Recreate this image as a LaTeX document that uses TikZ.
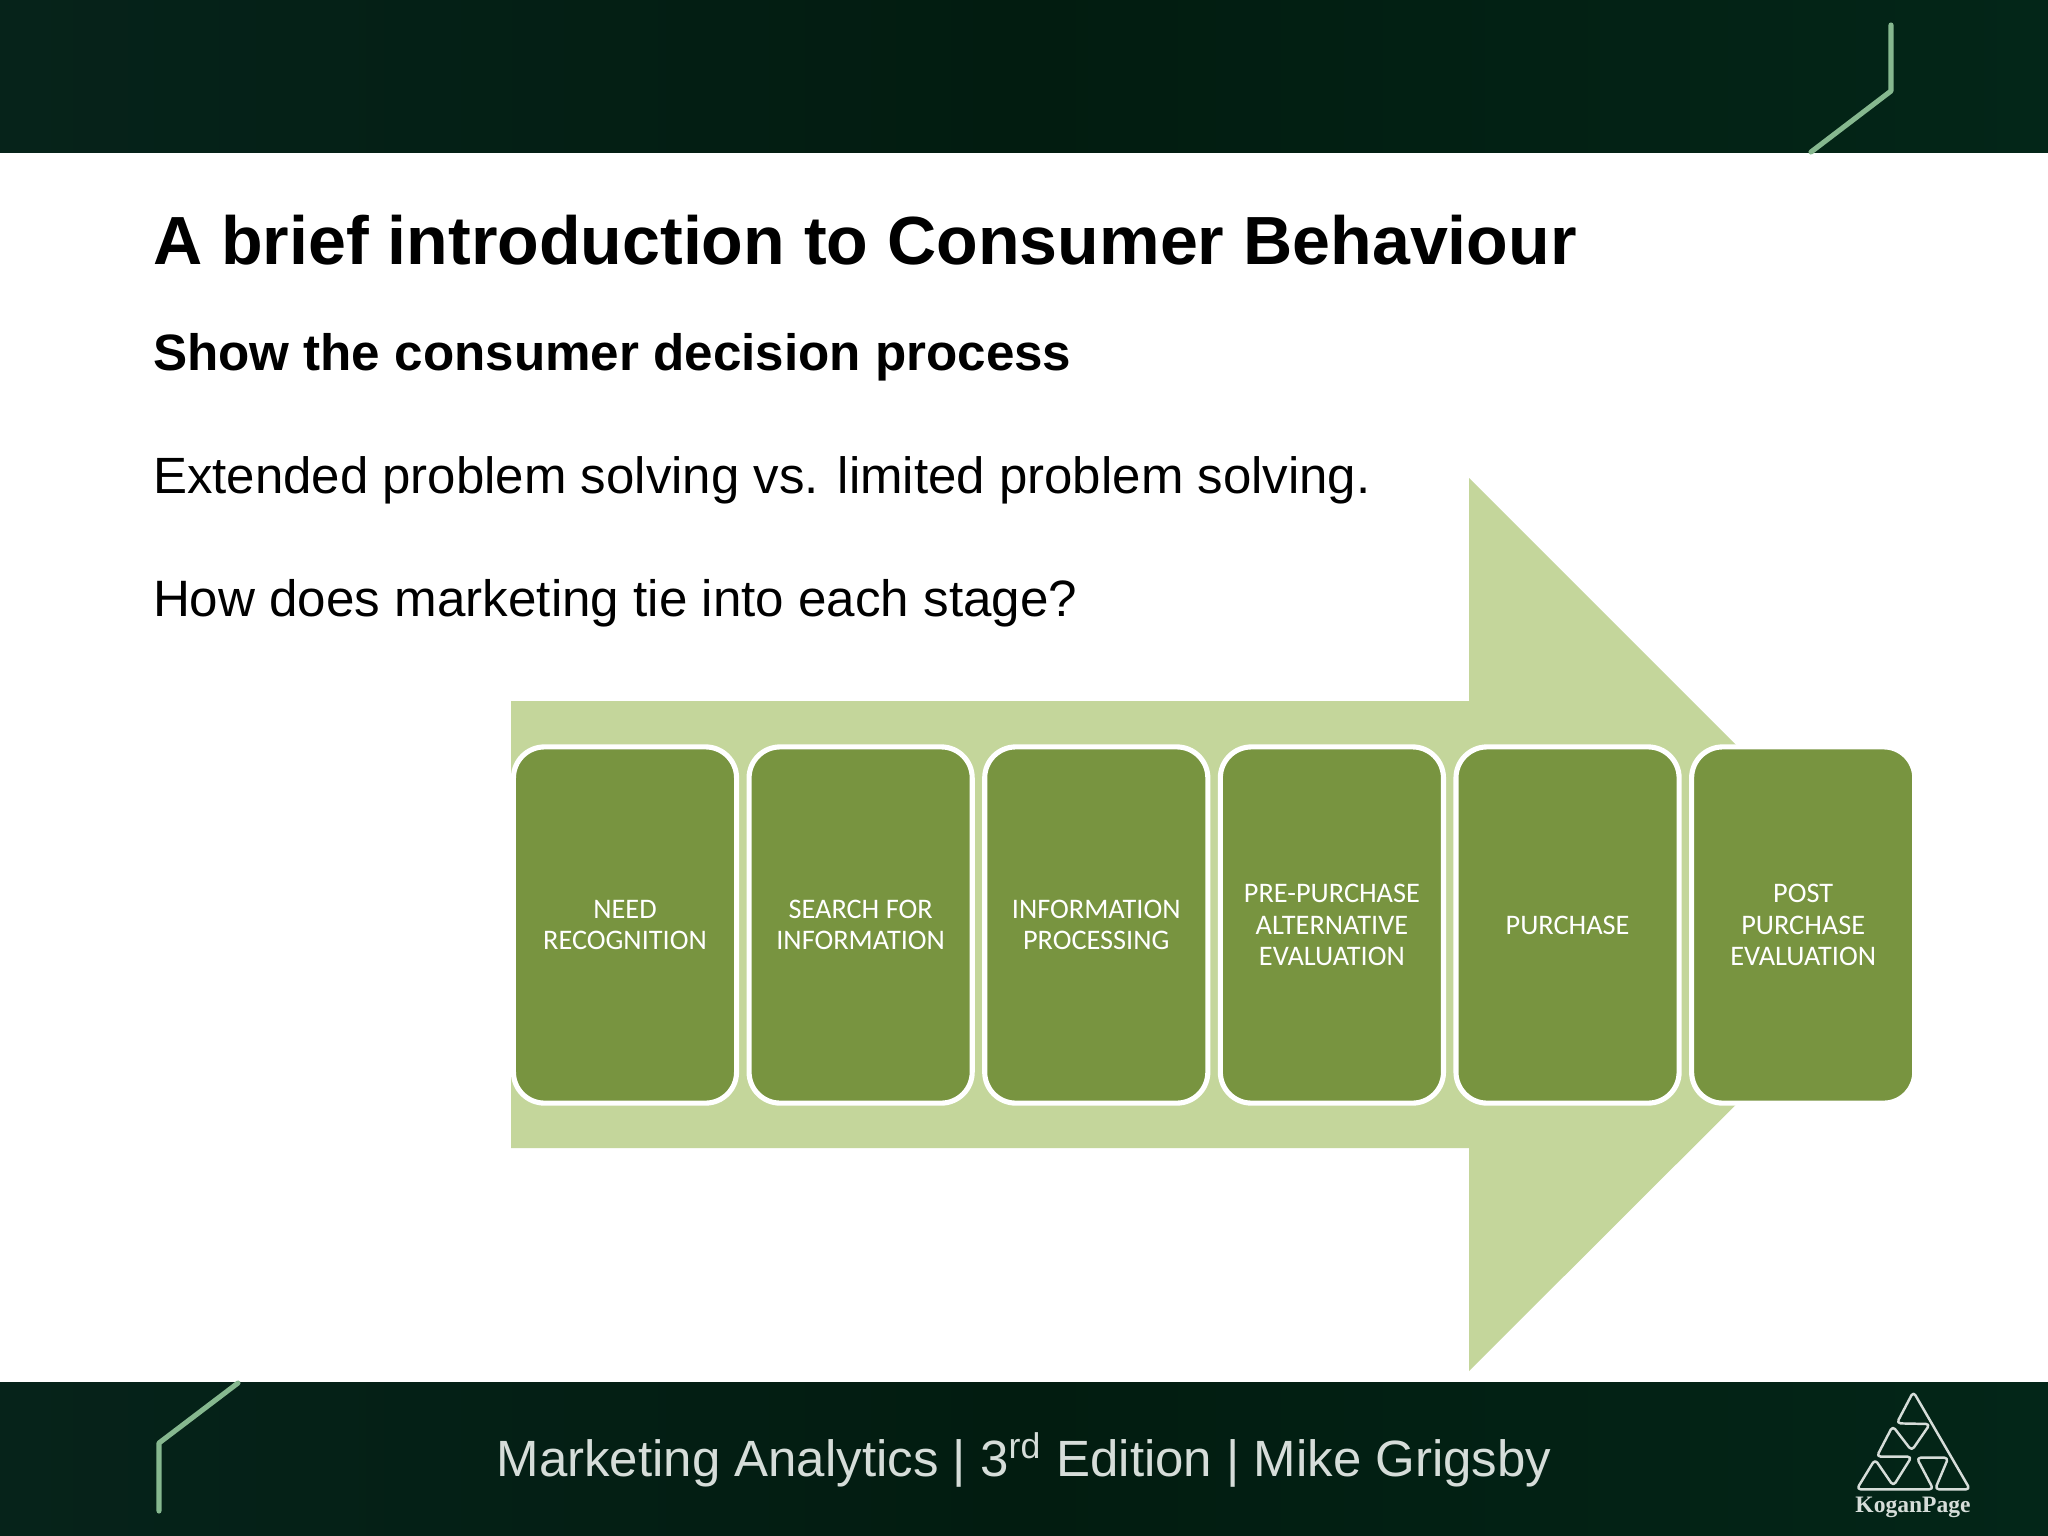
\documentclass[tikz,border=0pt]{standalone}
\usepackage{fontspec}
\setmainfont{Liberation Sans}
\newfontfamily\boxfont{Carlito}
\newfontfamily\logofont{Liberation Serif}
\usetikzlibrary{positioning}
\definecolor{bandleft}{HTML}{06231A}
\definecolor{bandmid}{HTML}{021C10}
\definecolor{bandright}{HTML}{032618}
\definecolor{bandline}{HTML}{86B88F}
\definecolor{arrowfill}{HTML}{C4D69B}
\definecolor{stagefill}{HTML}{789440}
\definecolor{footertext}{HTML}{D6DDD9}
\tikzset{
	band/.style={left color=bandleft, right color=bandright, middle color=bandmid},
	chevron/.style={draw=bandline, line width=1.45pt, line join=round, line cap=round},
	stage/.style={draw=white, fill=stagefill, text=white, line width=1.45pt, rounded corners=0.31cm, minimum width=2.23cm, minimum height=3.56cm, outer sep=0pt, inner sep=0pt, align=center, font=\boxfont\fontsize{8.05}{8.9}\selectfont},
	bodyline/.style={anchor=base west, inner sep=0pt, outer sep=0pt},
}
\begin{document}
\begin{tikzpicture}[x=0.01cm, y=-0.01cm, line join=round, line cap=round]
	\useasboundingbox (0,0) rectangle (2048,1536);
	\fill[white] (0,0) rectangle (2048,1536);
	% Dải trên, dải dưới
	\shade[band] (0,0) rectangle (2048,152);
	\shade[band] (0,1382) rectangle (2048,1536);
	\draw[chevron] (1891,25)--(1891,91)--(1811,152);
	\draw[chevron] (159,1511)--(159,1443)--(238,1383);
	% Tiêu đề
	\node[bodyline, font=\bfseries\fontsize{19.38}{22}\selectfont] (title) at (153,264) {A brief introduction to Consumer Behaviour};
	\node[bodyline, font=\bfseries\fontsize{14.55}{16}\selectfont] (subtitle) at (153,370) {Show the consumer decision process};
	\node[bodyline, font=\fontsize{14.5}{16}\selectfont] (extended) at (153,493) {Extended problem solving vs. limited problem solving.};
	\node[bodyline, font=\fontsize{14.55}{16}\selectfont] (marketing) at (153,616) {How does marketing tie into each stage?};
	% Mũi tên lớn
	\fill[arrowfill] (511,701)--(1469,701)--(1469,478)--(1916,925)--(1469,1371)--(1469,1148)--(511,1148)--cycle;
	\node[stage] (need) at (625,925) {NEED\\RECOGNITION};
	\node[stage, right=0.125cm of need] (search) {SEARCH FOR\\INFORMATION};
	\node[stage, right=0.125cm of search] (processing) {INFORMATION\\PROCESSING};
	\node[stage, right=0.125cm of processing] (evaluation) {PRE-PURCHASE\\ALTERNATIVE\\EVALUATION};
	\node[stage, right=0.125cm of evaluation] (purchase) {PURCHASE};
	\node[stage, right=0.125cm of purchase] (post) {POST\\PURCHASE\\EVALUATION};
	% Chân trang
	\node[inner sep=0pt, text=footertext, font=\fontsize{14.5}{16}\selectfont] (footer) at (1024,1460) {Marketing Analytics | 3\textsuperscript{rd} Edition | Mike Grigsby};
	\begin{scope}[shift={(1700,1360)}, x=0.01cm/3, y=-0.01cm/3]
		\draw[draw=footertext, line width=0.7pt, rounded corners=0.04cm] (590,190)--(640,95)--(810,388)--(705,388)--(745,293)--(650,293)--(700,388)--(470,388)--(525,298)--(580,378)--(635,290)--(530,290)--(578,198)--(635,272)--(690,192)--cycle;
	\end{scope}
	\node[inner sep=0pt, text=footertext, font=\logofont\bfseries\fontsize{6.7}{7}\selectfont] (logo) at (1913,1507) {KoganPage};
\end{tikzpicture}
\end{document}
